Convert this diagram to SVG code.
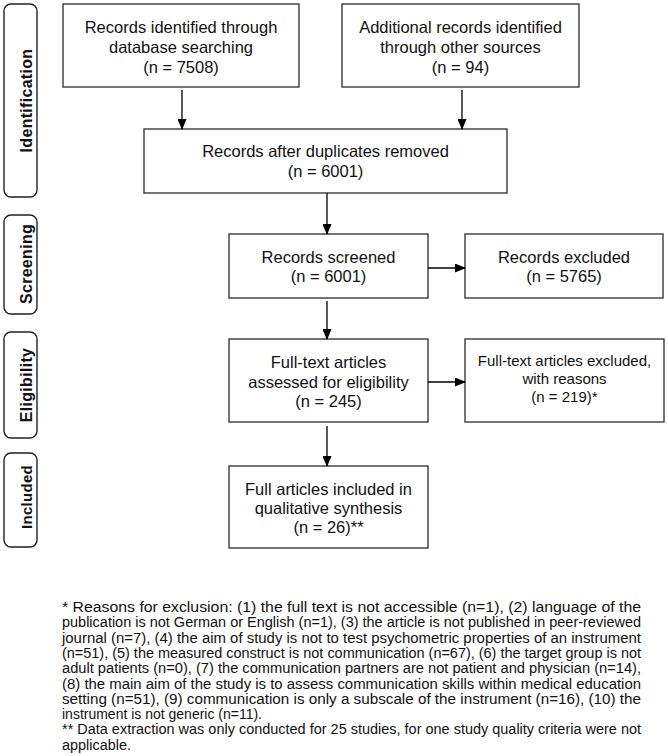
<svg xmlns="http://www.w3.org/2000/svg" width="668" height="756" viewBox="0 0 668 756">
<style>
.box{fill:#fff;stroke:#3a3a3a;stroke-width:1.4}
.side{fill:#fff;stroke:#222;stroke-width:1.4}
.t{font-family:"Liberation Sans",Arial,sans-serif;font-size:16.5px;fill:#111;text-anchor:middle}
.ts{font-family:"Liberation Sans",Arial,sans-serif;font-size:15px;fill:#111;text-anchor:middle}
.lab{font-family:"Liberation Sans",Arial,sans-serif;font-size:16px;font-weight:bold;fill:#111;text-anchor:middle;letter-spacing:0.3px}
.fn{font-family:"Liberation Sans",Arial,sans-serif;font-size:14px;fill:#111}
.c{stroke:#000;stroke-width:1.3;fill:none;marker-end:url(#ah)}
</style>
<defs>
<marker id="ah" markerUnits="userSpaceOnUse" markerWidth="11" markerHeight="9" refX="10" refY="4.5" orient="auto">
<path d="M0,0 L11,4.5 L0,9 z" fill="#000"/>
</marker>
</defs>
<rect width="668" height="756" fill="#fff"/>
<g id="phase-identification"><rect class="side" x="4" y="4" width="33" height="193" rx="7"/><text class="lab" transform="translate(31.5,100.5) rotate(-90)">Identification</text></g>
<g id="phase-screening"><rect class="side" x="4" y="215" width="33" height="99" rx="7"/><text class="lab" transform="translate(31.5,264) rotate(-90)">Screening</text></g>
<g id="phase-eligibility"><rect class="side" x="4" y="332" width="33" height="106" rx="7"/><text class="lab" transform="translate(31.5,385) rotate(-90)">Eligibility</text></g>
<g id="phase-included"><rect class="side" x="4" y="453" width="33" height="94" rx="7"/><text class="lab" style="font-size:15px" transform="translate(31.5,497) rotate(-90)">Included</text></g>

<g id="db-search"><rect class="box" x="63" y="4" width="236" height="83"/><text class="t" x="181" y="33">Records identified through</text><text class="t" x="181" y="53">database searching</text><text class="t" x="181" y="72.5">(n = 7508)</text></g>
<g id="other-sources"><rect class="box" x="342" y="4" width="237" height="83"/><text class="t" x="460.5" y="33">Additional records identified</text><text class="t" x="460.5" y="53">through other sources</text><text class="t" x="460.5" y="72.5">(n = 94)</text></g>
<g id="duplicates-removed"><rect class="box" x="144" y="129" width="363" height="64"/><text class="t" x="325.5" y="157">Records after duplicates removed</text><text class="t" x="325.5" y="177">(n = 6001)</text></g>
<g id="screened"><rect class="box" x="229" y="234" width="199" height="64"/><text class="t" x="328.5" y="263">Records screened</text><text class="t" x="328.5" y="282">(n = 6001)</text></g>
<g id="excluded"><rect class="box" x="465" y="234" width="198" height="64"/><text class="t" x="564" y="263">Records excluded</text><text class="t" x="564" y="282">(n = 5765)</text></g>
<g id="fulltext-assessed"><rect class="box" x="229" y="339" width="199" height="83"/><text class="t" x="328.5" y="368">Full-text articles</text><text class="t" x="328.5" y="387.5">assessed  for eligibility</text><text class="t" x="328.5" y="407">(n = 245)</text></g>
<g id="fulltext-excluded"><rect class="box" x="465" y="339" width="199" height="83"/><text class="ts" x="564.5" y="366">Full-text articles excluded,</text><text class="ts" x="564.5" y="384">with reasons</text><text class="ts" x="564.5" y="402">(n = 219)*</text></g>
<g id="included"><rect class="box" x="229" y="466" width="199" height="82"/><text class="t" x="328.5" y="495">Full articles included in</text><text class="t" x="328.5" y="514">qualitative synthesis</text><text class="t" x="328.5" y="533">(n = 26)**</text></g>

<g id="connectors">
<line class="c" x1="182" y1="90" x2="182" y2="129"/>
<line class="c" x1="462" y1="90" x2="462" y2="129"/>
<line class="c" x1="327" y1="193" x2="327" y2="234"/>
<line class="c" x1="428" y1="268" x2="465" y2="268"/>
<line class="c" x1="327" y1="301" x2="327" y2="339"/>
<line class="c" x1="428" y1="382" x2="465" y2="382"/>
<line class="c" x1="327" y1="426" x2="327" y2="466"/>
</g>

<g id="footnote">
<text class="fn" x="62" y="612" textLength="579" lengthAdjust="spacingAndGlyphs">* Reasons for exclusion: (1) the full text is not accessible (n=1), (2) language of the</text>
<text class="fn" x="62" y="627.3" textLength="579" lengthAdjust="spacingAndGlyphs">publication is not German or English (n=1), (3) the article is not published in peer-reviewed</text>
<text class="fn" x="62" y="642.6" textLength="579" lengthAdjust="spacingAndGlyphs">journal (n=7), (4) the aim of study is not to test psychometric properties of an instrument</text>
<text class="fn" x="62" y="657.9" textLength="579" lengthAdjust="spacingAndGlyphs">(n=51), (5) the measured construct is not communication (n=67), (6) the target group is not</text>
<text class="fn" x="62" y="673.2" textLength="579" lengthAdjust="spacingAndGlyphs">adult patients (n=0), (7) the communication partners are not patient and physician (n=14),</text>
<text class="fn" x="62" y="688.5" textLength="579" lengthAdjust="spacingAndGlyphs">(8) the main aim of the study is to assess communication skills within medical education</text>
<text class="fn" x="62" y="703.8" textLength="579" lengthAdjust="spacingAndGlyphs">setting (n=51), (9) communication is only a subscale of the instrument (n=16), (10) the</text>
<text class="fn" x="62" y="719.1" textLength="200" lengthAdjust="spacingAndGlyphs">instrument is not generic (n=11).</text>
<text class="fn" x="62" y="734.4" textLength="579" lengthAdjust="spacingAndGlyphs">** Data extraction was only conducted for 25 studies, for one study quality criteria were not</text>
<text class="fn" x="62" y="749.7" textLength="69" lengthAdjust="spacingAndGlyphs">applicable.</text>
</g>
</svg>
